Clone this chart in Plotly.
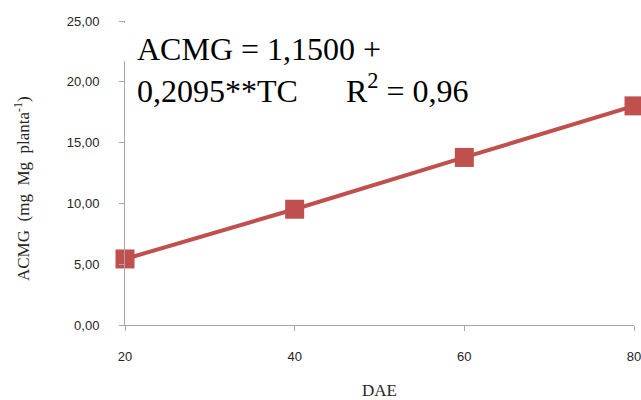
import plotly.graph_objects as go

dae = [20, 40, 60, 80]
acmg = [5.43, 9.52, 13.78, 18.02]
y_ticks = [0, 5, 10, 15, 20, 25]
y_tick_labels = ["0,00", "5,00", "10,00", "15,00", "20,00", "25,00"]
x_ticks = [20, 40, 60, 80]

red = "#C0504D"
axis_col = "#A6A6A6"
serif = "Liberation Serif"

fig = go.Figure()
fig.add_trace(go.Scatter(
    x=dae, y=acmg, mode="lines+markers",
    line=dict(color=red, width=4),
    marker=dict(symbol="square", size=19, color=red),
    showlegend=False, cliponaxis=False,
))

fig.update_layout(
    width=641, height=400,
    margin=dict(l=125, r=7, t=21, b=75, autoexpand=False),
    plot_bgcolor="white", paper_bgcolor="white",
    font=dict(family="Liberation Sans", size=13, color="#262626"),
)
fig.update_xaxes(
    range=[20, 80], tickvals=x_ticks, ticktext=[str(v) for v in x_ticks],
    showgrid=False, zeroline=False, showline=True, linecolor=axis_col, linewidth=1,
    ticks="outside", ticklen=5, tickcolor=axis_col, ticklabelstandoff=14,
    ticklabeloverflow="allow", automargin=False,
    title=dict(text="DAE", font=dict(family=serif, size=17, color="#262626"), standoff=28),
)
fig.update_yaxes(
    range=[0, 25], tickvals=y_ticks, ticktext=y_tick_labels,
    showgrid=False, zeroline=False, showline=True, linecolor=axis_col, linewidth=1,
    ticks="outside", ticklen=5, tickcolor=axis_col, ticklabelstandoff=17,
    automargin=False,
)
# y-axis title placed as rotated text
fig.add_annotation(
    xref="paper", yref="paper", x=(22-125)/509, y=(325-189)/304,
    xanchor="center", yanchor="middle", showarrow=False, textangle=-90,
    text="ACMG  (mg  Mg  planta<sup>-1</sup>)",
    font=dict(family=serif, size=17, color="#262626"),
)
# white text box covering the top of the y axis
fig.add_shape(type="rect", xref="paper", yref="paper",
              x0=-0.01, x1=0.02, y0=(325-23)/304, y1=(325-61)/304,
              fillcolor="white", line=dict(width=0), layer="above")
fig.add_annotation(
    xref="paper", yref="paper", x=(135-125)/509, y=(325-29)/304,
    xanchor="left", yanchor="top", align="left", showarrow=False,
    text="ACMG = 1,1500 +<br>0,2095**TC      R<sup>2</sup> = 0,96",
    font=dict(family=serif, size=32, color="#000000"),
)
fig.write_html("out.html", config={"displayModeBar": False},
               post_script="document.body.style.margin='0';document.body.style.overflow='hidden';")
